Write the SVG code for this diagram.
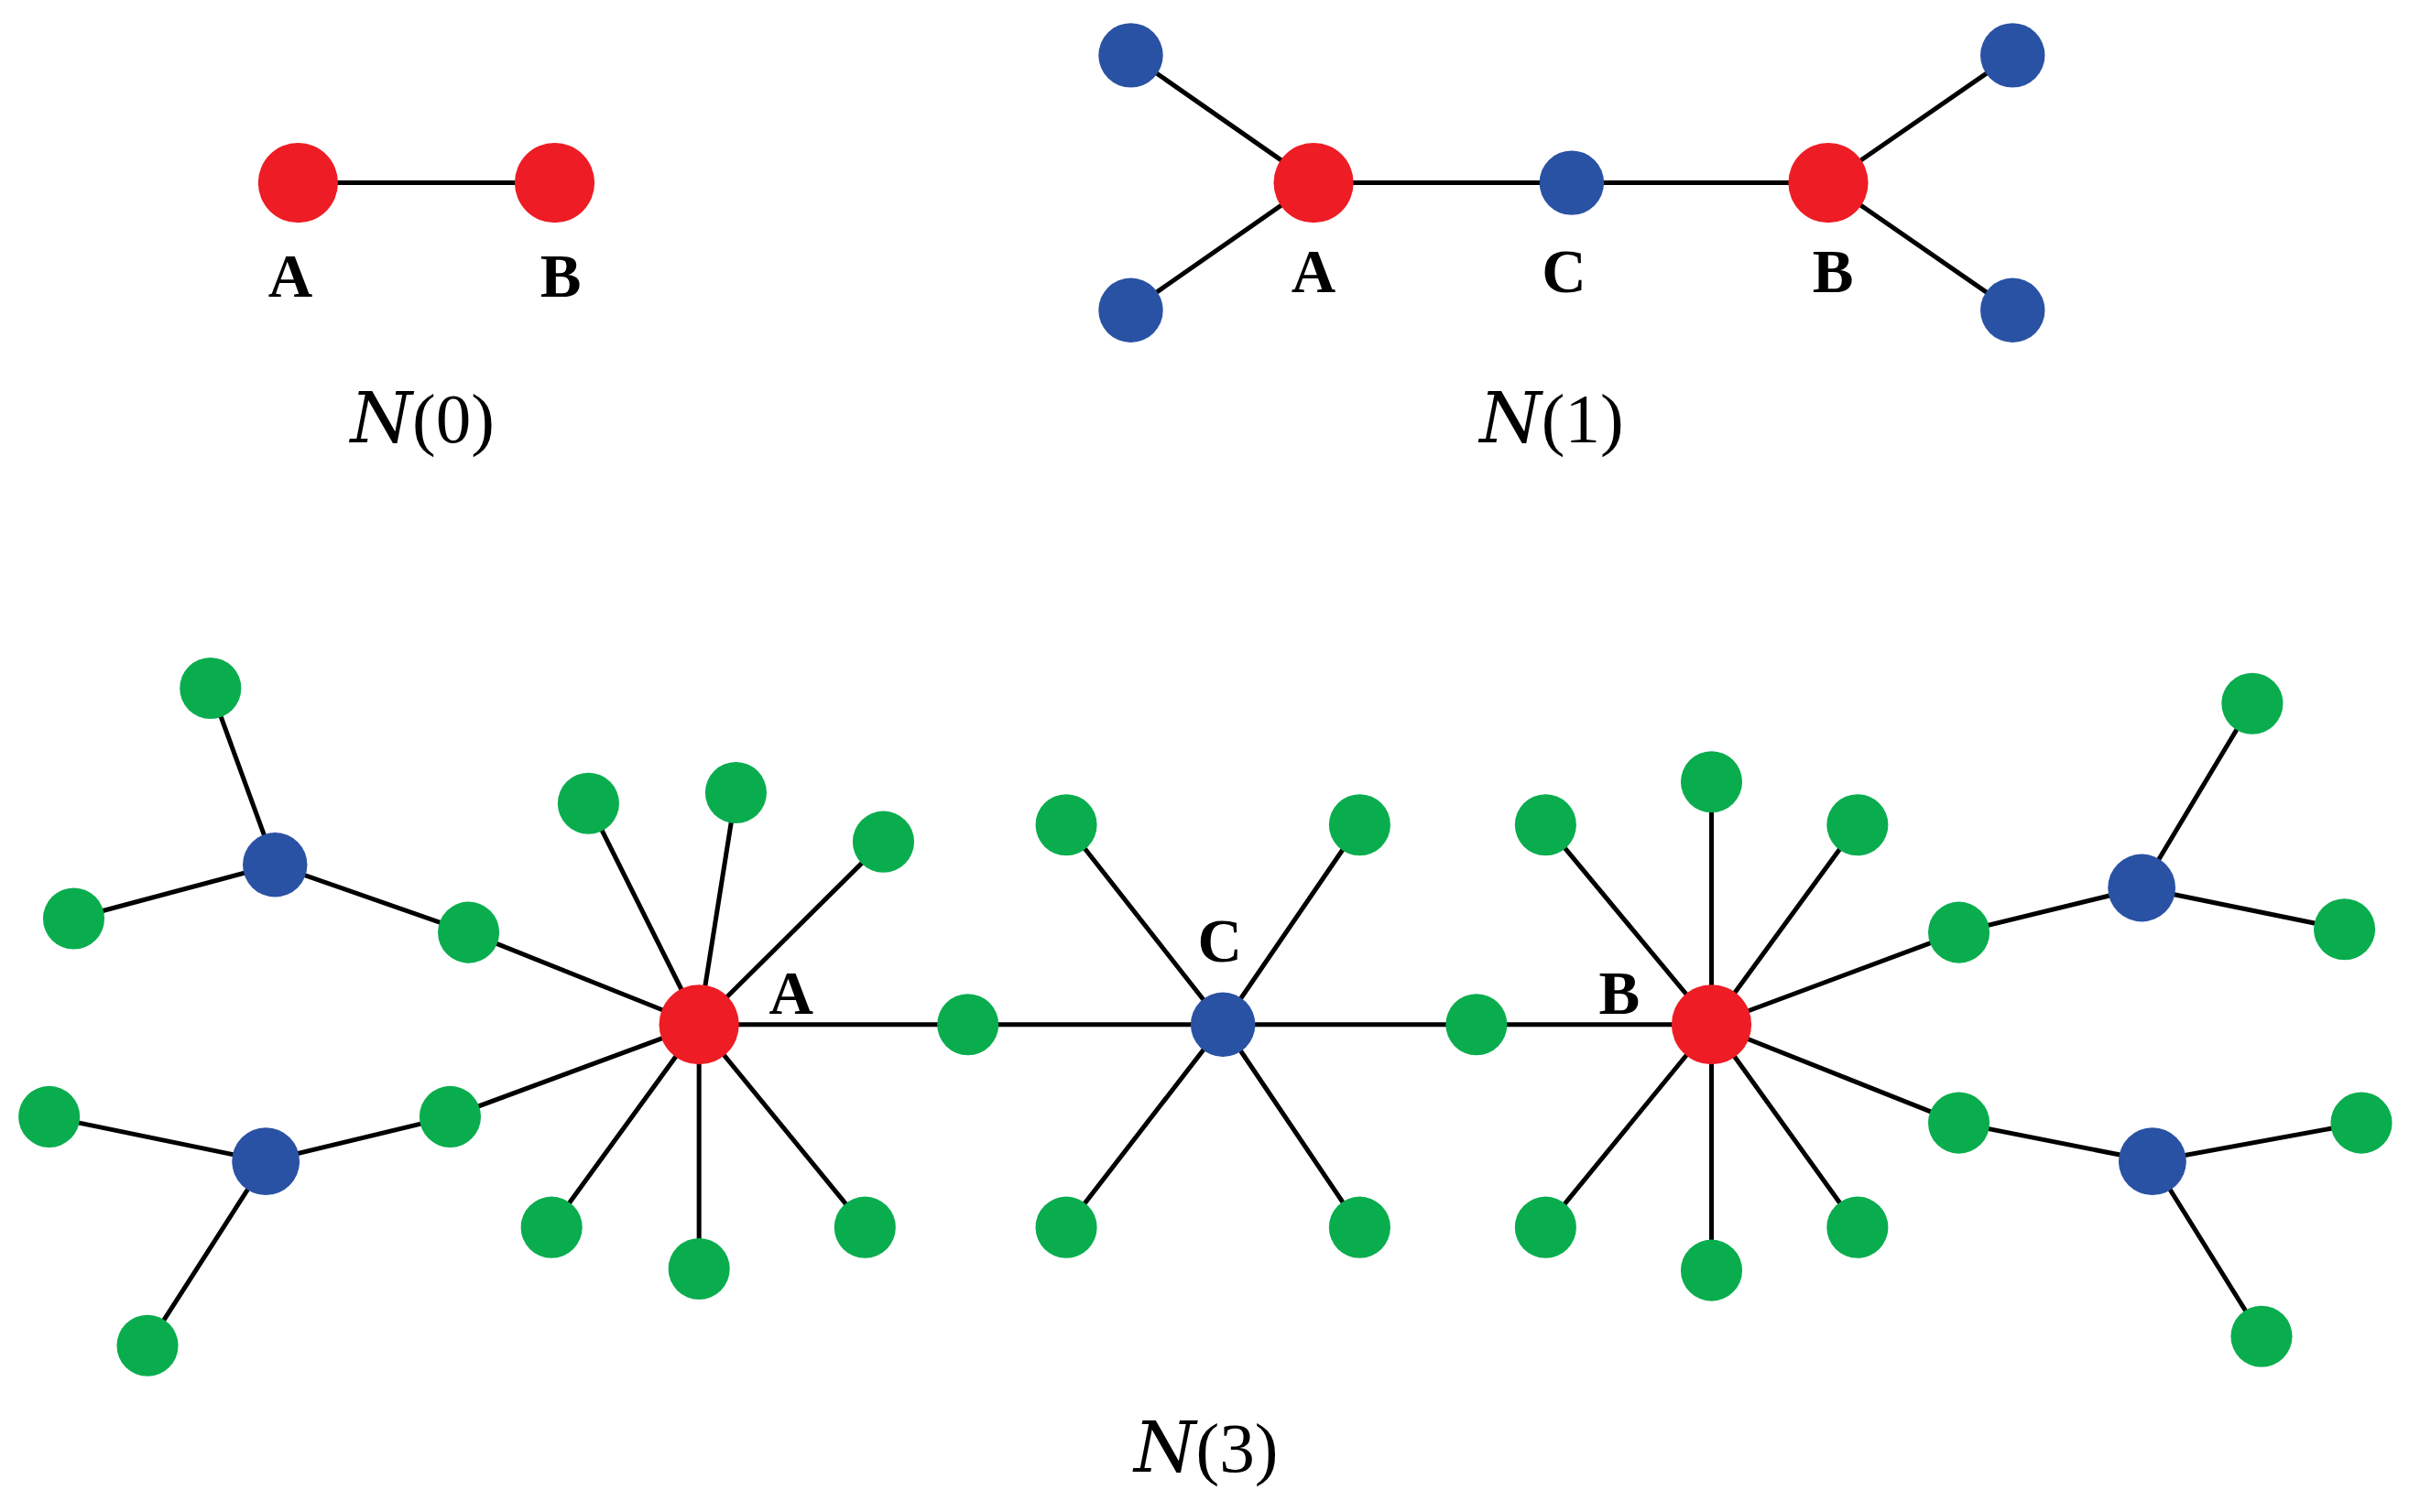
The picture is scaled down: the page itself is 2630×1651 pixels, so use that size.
<svg xmlns="http://www.w3.org/2000/svg" width="2630" height="1651" viewBox="0 0 2630 1651">
<style>
.e{stroke:#000;stroke-width:3;fill:none}
.r{fill:#ee1c24}.b{fill:#2a52a4}.g{fill:#09ad4e}
.l{font-family:"Liberation Serif",serif;font-weight:bold;font-size:40px;text-anchor:middle}
.t{font-family:"Liberation Serif",serif;font-size:46px;text-anchor:middle}
</style>
<rect width="2630" height="1651" fill="#fff"/>
<g transform="scale(1.6773)">
<g id="connectors" class="e">
<path d="M194 119H361"/>
<path d="M855 119H1190M736 36L855 119L736 202M1310 36L1190 119L1310 202"/>
<path d="M455 667H1114"/>
<path d="M455 667L383 523M455 667L479 516M455 667L575 548M455 667L359 799M455 667L455 826M455 667L563 799M455 667L305 607L179 563L137 448M179 563L48 598M455 667L293 727L173 756L32 727M173 756L96 876"/>
<path d="M796 667L694 537M796 667L885 537M796 667L694 799M796 667L885 799"/>
<path d="M1114 667L1006 537M1114 667L1114 509M1114 667L1209 537M1114 667L1006 799M1114 667L1114 827M1114 667L1209 799M1114 667L1275 607L1394 578L1466 458M1394 578L1526 605M1114 667L1275 731L1401 756L1537 731M1401 756L1472 870"/>
</g>
<g id="n0">
<circle class="r" cx="194" cy="119" r="26"/><circle class="r" cx="361" cy="119" r="26"/>
<text class="l" x="189" y="193">A</text><text class="l" x="365" y="193">B</text>
<text class="t" x="275" y="288"><tspan font-style="italic" font-family="DejaVu Serif,serif">N</tspan>(0)</text>
</g>
<g id="n1">
<circle class="b" cx="736" cy="36" r="21"/><circle class="b" cx="736" cy="202" r="21"/>
<circle class="b" cx="1310" cy="36" r="21"/><circle class="b" cx="1310" cy="202" r="21"/>
<circle class="r" cx="855" cy="119" r="26"/><circle class="b" cx="1023" cy="119" r="21"/><circle class="r" cx="1190" cy="119" r="26"/>
<text class="l" x="855" y="190">A</text><text class="l" x="1018" y="190">C</text><text class="l" x="1193" y="190">B</text>
<text class="t" x="1010" y="288"><tspan font-style="italic" font-family="DejaVu Serif,serif">N</tspan>(1)</text>
</g>
<g id="n3">
<g class="g">
<circle cx="630" cy="667" r="20"/><circle cx="961" cy="667" r="20"/>
<circle cx="383" cy="523" r="20"/><circle cx="479" cy="516" r="20"/><circle cx="575" cy="548" r="20"/><circle cx="359" cy="799" r="20"/><circle cx="455" cy="826" r="20"/><circle cx="563" cy="799" r="20"/><circle cx="305" cy="607" r="20"/><circle cx="293" cy="727" r="20"/>
<circle cx="137" cy="448" r="20"/><circle cx="48" cy="598" r="20"/><circle cx="32" cy="727" r="20"/><circle cx="96" cy="876" r="20"/>
<circle cx="694" cy="537" r="20"/><circle cx="885" cy="537" r="20"/><circle cx="694" cy="799" r="20"/><circle cx="885" cy="799" r="20"/>
<circle cx="1006" cy="537" r="20"/><circle cx="1114" cy="509" r="20"/><circle cx="1209" cy="537" r="20"/><circle cx="1006" cy="799" r="20"/><circle cx="1114" cy="827" r="20"/><circle cx="1209" cy="799" r="20"/><circle cx="1275" cy="607" r="20"/><circle cx="1275" cy="731" r="20"/>
<circle cx="1466" cy="458" r="20"/><circle cx="1526" cy="605" r="20"/><circle cx="1537" cy="731" r="20"/><circle cx="1472" cy="870" r="20"/>
</g>
<circle class="b" cx="179" cy="563" r="21"/><circle class="b" cx="173" cy="756" r="22"/><circle class="b" cx="1394" cy="578" r="22"/><circle class="b" cx="1401" cy="756" r="22"/>
<circle class="b" cx="796" cy="667" r="21"/>
<circle class="r" cx="455" cy="667" r="26"/><circle class="r" cx="1114" cy="667" r="26"/>
<text class="l" x="515" y="660">A</text><text class="l" x="794" y="626">C</text><text class="l" x="1054" y="660">B</text>
<text class="t" x="785" y="958"><tspan font-style="italic" font-family="DejaVu Serif,serif">N</tspan>(3)</text>
</g>
</g>
</svg>
